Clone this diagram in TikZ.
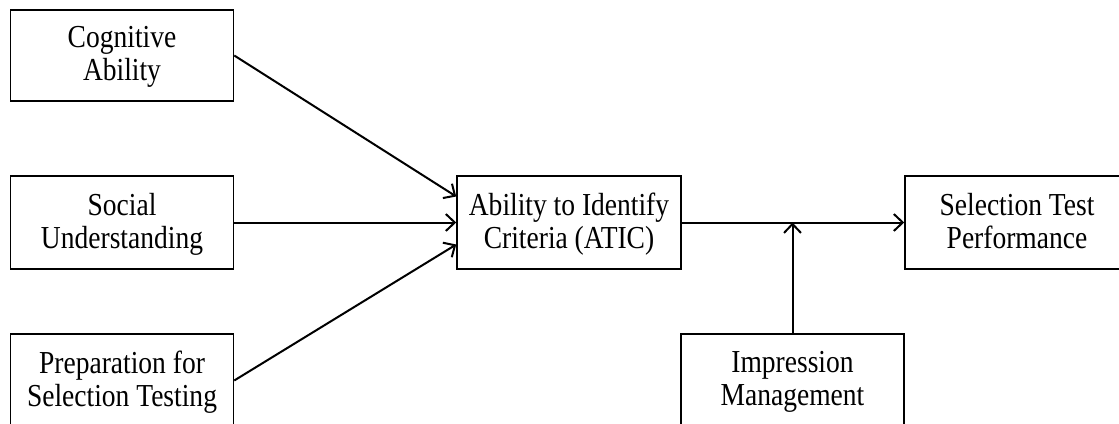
\documentclass[tikz,border=0pt]{standalone}
\usepackage{fontspec}
\setmainfont{Liberation Serif}[FakeStretch=0.86]
\usetikzlibrary{arrows.meta}
\begin{document}
\begin{tikzpicture}[x=1pt,y=-1pt,
  box/.style={draw=black, line width=1.5pt, inner sep=0pt, align=center,
    font=\fontsize{32}{33}\selectfont, text depth=4pt,
    minimum width=223pt, minimum height=93pt},
  link/.style={line width=2pt, -{Straight Barb[length=9pt,width=17pt,line width=2pt]}}]
\useasboundingbox (0,0) rectangle (1119,423);
\clip (0,0) rectangle (1119,423);
\fill[white] (0,0) rectangle (1119,423);

% predictors
\node[box, minimum height=91pt] (cog)  at (122,55.5) {Cognitive\\Ability};
\node[box] (soc)  at (122,222.5) {Social\\Understanding};
\node[box] (prep) at (122,380.5) {Preparation for\\Selection Testing};

% mediator, outcome and moderator
\node[box, minimum width=224pt] (atic) at (569,222.5) {Ability to Identify\\Criteria (ATIC)};
\node[box, minimum width=224pt] (sel)  at (1017,222.5) {Selection Test\\Performance};
\node[box] (imp)  at (792.5,380.5) {Impression\\Management};

% paths
\draw[link] (cog.east) -- ([yshift=26pt]atic.west);
\draw[link] (soc.east) -- (atic.west);
\draw[link] (prep.east) -- ([yshift=-22pt]atic.west);
\draw[link] (atic.east) -- (sel.west);
\draw[link] (imp.north) -- (imp.north |- atic.east);
\end{tikzpicture}
\end{document}
